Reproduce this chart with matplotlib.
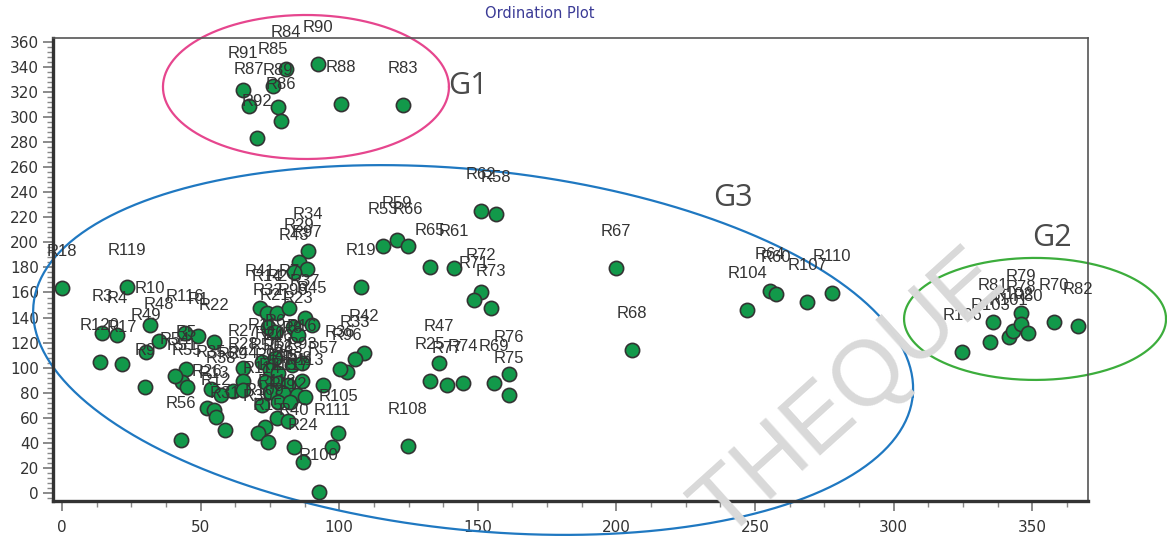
import matplotlib
matplotlib.use("Agg")
import matplotlib.pyplot as plt
from matplotlib.ticker import MultipleLocator
import numpy as np

# sample names and ordination scores
labels = ["R84", "R90", "R91", "R85", "R87", "R89", "R86", "R92", "R88", "R83",
          "R106", "R103", "R81", "R101", "R102", "R79", "R78", "R80", "R70", "R82",
          "R104", "R64", "R60", "R107", "R110",
          "R62", "R58", "R53", "R59", "R66", "R65", "R61", "R19", "R72", "R71",
          "R73", "R67", "R68", "R47", "R25", "R77", "R74", "R69", "R76", "R75",
          "R108", "R42", "R33", "R96", "R36", "R105", "R111", "R100", "R24", "R40",
          "R57", "R56",
          "R18", "R119", "R10", "R3", "R4", "R120", "R17", "R49", "R48", "R9",
          "R116", "R1", "R22", "R5", "R51", "R54", "R55", "R26", "R13", "R12",
          "R31", "R35", "R38", "R39", "R27", "R28", "R44", "R11",
          "R41", "R14", "R2", "R7", "R37", "R45", "R32", "R99", "R21", "R23",
          "R6", "R8", "R16", "R20", "R46", "R50", "R52", "R63", "R93", "R94",
          "R95", "R98", "R113", "R114", "R115", "R117", "R118", "R112", "R109",
          "R30", "R15", "R34", "R29", "R97", "R43"]
xs = [80.8, 92.3, 65.3, 76.1, 67.5, 77.9, 79.0, 70.3, 100.6, 123.0,
      324.7, 334.8, 335.9, 341.6, 343.1, 346.0, 346.0, 348.5, 357.9, 366.5,
      247.1, 255.4, 257.6, 268.8, 277.8,
      151.2, 156.6, 115.8, 120.9, 124.8, 132.8, 141.4, 107.9, 151.2, 148.6,
      154.8, 199.9, 205.6, 136.0, 132.8, 138.9, 144.7, 155.8, 161.3, 161.3,
      124.8, 108.9, 105.7, 102.8, 100.3, 99.6, 97.4, 92.7, 86.9, 83.7,
      94.2, 42.9,
      0.0, 23.4, 31.7, 14.4, 19.8, 13.7, 21.6, 30.3, 35.0, 29.9,
      44.4, 49.1, 54.8, 44.7, 43.3, 40.8, 45.1, 52.3, 54.8, 55.6,
      58.8, 53.8, 57.4, 61.7, 65.3, 65.3, 65.3, 72.2,
      71.4, 74.0, 77.6, 81.9, 87.7, 90.2, 74.3, 83.3, 76.8, 85.1,
      76.8, 83.0, 86.6, 75.0, 77.9, 73.2, 77.9, 81.5, 86.6, 75.0,
      79.7, 84.8, 87.7, 72.2, 77.9, 82.3, 77.6, 81.5, 73.2,
      70.7, 74.3, 88.7, 85.5, 88.4, 83.7]
ys = [338.4, 342.4, 321.6, 324.8, 308.9, 308.1, 296.9, 283.3, 310.5, 309.7,
      112.5, 120.5, 136.5, 124.5, 129.3, 143.7, 134.9, 127.7, 136.5, 133.3,
      146.0, 161.2, 158.8, 152.4, 159.6,
      225.1, 222.7, 197.1, 201.9, 197.1, 180.4, 179.6, 164.4, 160.4, 154.0,
      147.6, 179.6, 114.1, 103.8, 89.4, 86.2, 87.8, 87.8, 95.0, 78.2,
      37.5, 111.7, 106.9, 96.6, 99.0, 47.9, 36.7, 0.8, 24.7, 36.7,
      86.2, 42.3,
      163.6, 164.4, 134.1, 127.7, 126.1, 104.5, 103.0, 112.5, 121.3, 84.6,
      127.7, 125.3, 120.5, 99.0, 88.6, 93.4, 84.6, 67.8, 66.2, 60.7,
      50.3, 83.0, 78.2, 81.4, 99.8, 89.4, 82.2, 104.5,
      147.6, 143.7, 143.7, 147.6, 139.7, 134.1, 132.5, 132.5, 128.5, 126.1,
      107.7, 102.2, 103.8, 98.2, 95.8, 88.6, 87.8, 86.2, 89.4, 80.6,
      79.8, 78.2, 76.6, 70.2, 72.6, 72.6, 59.9, 57.5, 52.7,
      47.9, 40.7, 193.1, 184.4, 178.8, 176.4]

# hand drawn groups: name, centre (data), radii in pixels, tilt, colour, label spot
group_names = ["G1", "G3", "G2"]
group_centre = [(88.0, 324.0), (148.3, 114.1), (351.0, 138.9)]
group_radii = [(143, 72), (442, 180), (131, 61)]
group_tilt = [0, -6, 0]
group_colors = ["#e6468e", "#1f78c1", "#3cad3c"]
group_text_at = [(146.5, 324.6), (242.1, 235.4), (357.1, 203.5)]

fig = plt.figure(figsize=(11.67, 5.37), dpi=100)
ax = fig.add_axes([53/1167, 36/537, 1035/1167, 463/537])
ax.set_xlim(-3.25, 370.1)
ax.set_ylim(-6.4, 363.1)

# watermark
fig.text(850/1167, 1 - 395/537, "THEQUE", rotation=42, ha="center", va="center",
         fontsize=66, color="#d9d9d9", family="Liberation Sans", zorder=0)

ax.scatter(xs, ys, s=105, c="#12994a", edgecolors="#333333", linewidths=1.2, zorder=3)
for lb, x, y in zip(labels, xs, ys):
    ax.annotate(lb, (x, y), xytext=(0, 26), textcoords="offset points",
                ha="center", va="center", fontsize=12, color="#333333",
                family="Liberation Sans", zorder=4, annotation_clip=False)

# ellipses drawn in pixel space so they keep their look
t = np.linspace(0, 2 * np.pi, 400)
inv = ax.transData.inverted()
for name, c, r, ang, col, tp in zip(group_names, group_centre, group_radii,
                                     group_tilt, group_colors, group_text_at):
    cx, cy = ax.transData.transform(c)
    th = np.radians(ang)
    dx = r[0] * np.cos(t) * np.cos(th) - r[1] * np.sin(t) * np.sin(th)
    dy = r[0] * np.cos(t) * np.sin(th) + r[1] * np.sin(t) * np.cos(th)
    pts = inv.transform(np.column_stack([cx + dx, cy + dy]))
    ax.plot(pts[:, 0], pts[:, 1], color=col, lw=1.6, clip_on=False, zorder=2)
    ax.text(tp[0], tp[1], name, fontsize=22, color="#4a4a4a", family="Open Sans",
            ha="center", va="center")

ax.xaxis.set_major_locator(MultipleLocator(50))
ax.xaxis.set_minor_locator(MultipleLocator(12.5))
ax.yaxis.set_major_locator(MultipleLocator(20))
ax.yaxis.set_minor_locator(MultipleLocator(4))
ax.tick_params(which="major", length=7, width=1.2, color="#777777",
               labelsize=11, labelcolor="#333333")
ax.tick_params(axis="x", which="major", pad=7)
ax.tick_params(axis="y", which="major", pad=3)
ax.tick_params(which="minor", length=4, width=1.0, color="#888888")
for s in ["left", "bottom"]:
    ax.spines[s].set_linewidth(2.4)
    ax.spines[s].set_color("#333333")
for s in ["top", "right"]:
    ax.spines[s].set_linewidth(1.2)
    ax.spines[s].set_color("#555555")

fig.text(540/1167, 1 - 14/537, "Ordination Plot", ha="center", va="center",
         fontsize=10.5, color="#3b3b96")

fig.savefig("out.png", dpi=100)
